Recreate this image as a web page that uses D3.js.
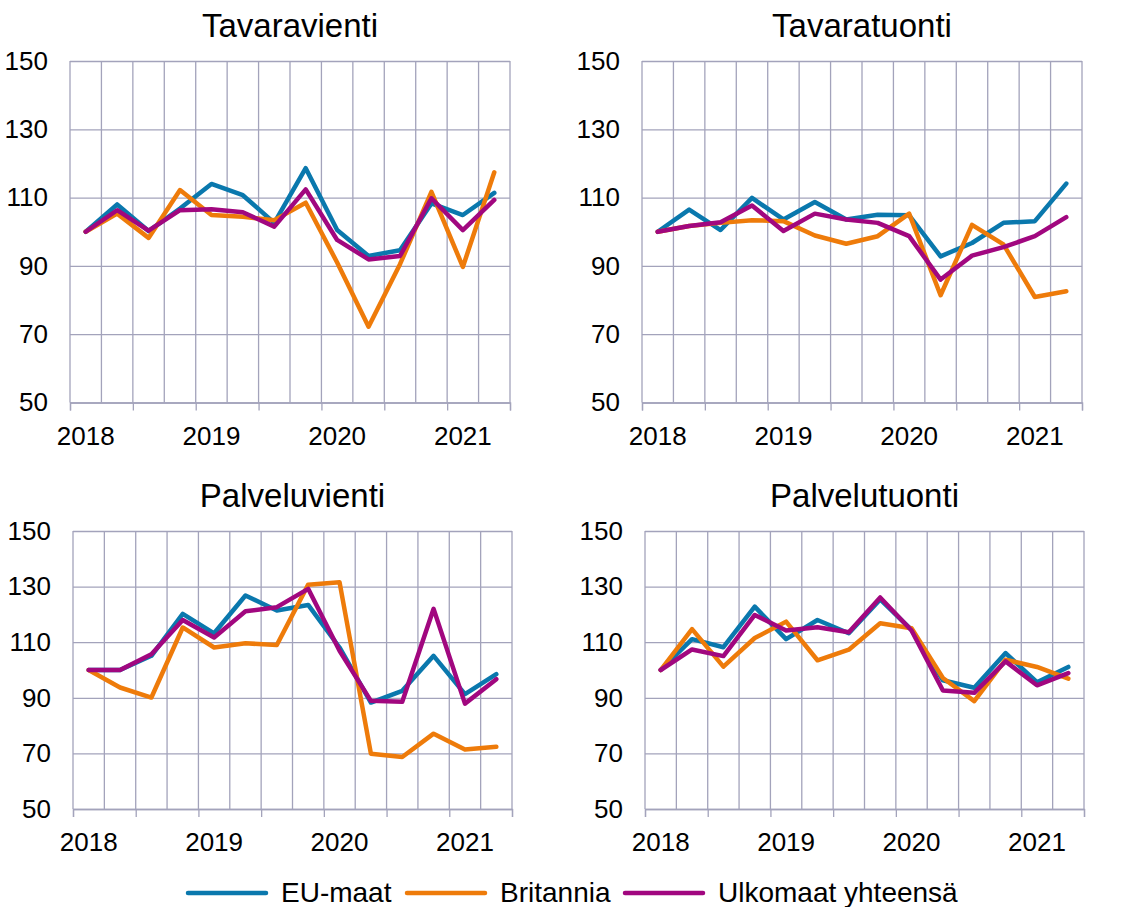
<!DOCTYPE html>
<html>
<head>
<meta charset="utf-8">
<script src="https://cdn.jsdelivr.net/npm/d3@7"></script>
<style>
  body { margin: 0; background: #fff; }
  svg { font-family: "Liberation Sans", Arial, sans-serif; }
</style>
</head>
<body>
<div id="chart"></div>
<script>
{
  const width = 1127;
  const height = 907;

  // quarters 2018Q1 .. 2021Q2
  const quarters = ["2018Q1","2018Q2","2018Q3","2018Q4","2019Q1","2019Q2","2019Q3","2019Q4",
                    "2020Q1","2020Q2","2020Q3","2020Q4","2021Q1","2021Q2"];
  const yearLabels = ["2018", "2019", "2020", "2021"];
  const yTicks = [50, 70, 90, 110, 130, 150];
  const seriesNames = ["EU-maat", "Britannia", "Ulkomaat yhteensä"];
  const colors = ["#0a78ad", "#ee7b0a", "#a1077f"];
  const panelTitles = ["Tavaravienti", "Tavaratuonti", "Palveluvienti", "Palvelutuonti"];

  // Tavaravienti
  const tvEU   = [100, 108.0, 100.2, 106.8, 114.0, 110.7, 102.6, 118.6, 100.5, 92.9, 94.6, 108.3, 104.9, 111.4];
  const tvUK   = [100, 105.3, 98.2, 112.2, 104.9, 104.4, 103.4, 108.5, 91.0, 72.2, 90.5, 111.7, 89.7, 117.4];
  const tvAll  = [100, 106.3, 100.3, 106.3, 106.6, 105.7, 101.5, 112.4, 97.6, 91.9, 92.9, 109.8, 100.5, 109.3];
  // Tavaratuonti
  const ttEU   = [100, 106.5, 100.5, 109.9, 103.6, 108.7, 103.6, 105.0, 104.8, 92.8, 96.7, 102.6, 103.1, 114.1];
  const ttUK   = [100, 101.7, 102.6, 103.4, 103.1, 98.9, 96.5, 98.7, 105.3, 81.4, 102.0, 96.3, 80.9, 82.6];
  const ttAll  = [100, 101.7, 102.8, 107.7, 100.2, 105.3, 103.6, 102.6, 98.7, 86.0, 93.0, 95.5, 98.7, 104.3];
  // Palveluvienti
  const pvEU   = [100, 100, 105.1, 120.2, 113.2, 126.8, 121.4, 123.4, 108.1, 88.3, 92.5, 105.1, 91.3, 98.5];
  const pvUK   = [100, 93.7, 90.1, 115.3, 108.1, 109.6, 109.0, 130.7, 131.6, 69.9, 68.7, 77.1, 71.4, 72.4];
  const pvAll  = [100, 100, 105.7, 118.0, 111.7, 121.1, 122.6, 129.2, 106.9, 88.9, 88.6, 122.0, 87.9, 96.7];
  // Palvelutuonti
  const ptEU   = [100, 111.1, 108.2, 122.8, 111.1, 118.0, 113.2, 125.4, 114.4, 96.3, 93.6, 106.1, 95.6, 101.1];
  const ptUK   = [100, 114.7, 101.2, 111.5, 117.4, 103.5, 107.3, 116.8, 115.0, 97.1, 88.8, 103.7, 101.1, 96.9];
  const ptAll  = [100, 107.4, 105.0, 119.8, 114.2, 115.4, 113.6, 126.1, 114.2, 92.6, 91.8, 103.1, 94.5, 98.9];

  const panelData = [
    [tvEU, tvUK, tvAll],
    [ttEU, ttUK, ttAll],
    [pvEU, pvUK, pvAll],
    [ptEU, ptUK, ptAll]
  ];

  // plot boxes for the four panels
  const boxes = [
    {x0: 70,  x1: 510,  y0: 61,  y1: 402.5},
    {x0: 642, x1: 1082, y0: 61,  y1: 402.5},
    {x0: 73,  x1: 512,  y0: 531, y1: 809},
    {x0: 645, x1: 1084, y0: 531, y1: 809}
  ];

  const gridColor = "#a3a3bb";

  const svg = d3.select("#chart").append("svg")
    .attr("width", width)
    .attr("height", height);

  boxes.forEach((b, p) => {
    const w = b.x1 - b.x0;
    const h = b.y1 - b.y0;
    const g = svg.append("g").attr("transform", `translate(${b.x0},${b.y0})`);

    const x = d3.scaleBand().domain(quarters).range([0, w]).padding(0);
    const xEdge = d3.scaleLinear().domain([0, quarters.length]).range([0, w]);
    const y = d3.scaleLinear().domain([50, 150]).range([h, 0]);

    // horizontal grid + y labels
    const yAxis = g.append("g")
      .call(d3.axisLeft(y).tickValues(yTicks).tickSize(-w).tickPadding(22));
    yAxis.select(".domain").remove();
    yAxis.selectAll("line").attr("stroke", gridColor).attr("stroke-width", 1.3);
    yAxis.selectAll("text")
      .attr("fill", "#000")
      .style("font-size", "26px")
      .style("font-family", "Liberation Sans, Arial, sans-serif");

    // vertical grid at category boundaries
    g.append("g").selectAll("line")
      .data(d3.range(0, quarters.length + 1))
      .join("line")
      .attr("x1", d => xEdge(d)).attr("x2", d => xEdge(d))
      .attr("y1", 0).attr("y2", h)
      .attr("stroke", gridColor).attr("stroke-width", 1.3);

    // tick marks below the axis every two quarters
    const xAxis = g.append("g")
      .attr("transform", `translate(0,${h})`)
      .call(d3.axisBottom(xEdge).tickValues(d3.range(0, quarters.length + 1, 2)).tickSize(8).tickFormat(""));
    xAxis.selectAll("line").attr("stroke", gridColor).attr("stroke-width", 1.3);
    xAxis.select(".domain").attr("stroke", gridColor).attr("stroke-width", 1.3);

    // year labels under Q1
    g.append("g").selectAll("text")
      .data(yearLabels)
      .join("text")
      .attr("x", d => x(d + "Q1") + x.bandwidth() / 2)
      .attr("y", h + 42)
      .attr("text-anchor", "middle")
      .style("font-size", "26px")
      .text(d => d);

    // title
    g.append("text")
      .attr("x", w / 2)
      .attr("y", -24)
      .attr("text-anchor", "middle")
      .style("font-size", "33px")
      .text(panelTitles[p]);

    const line = d3.line()
      .x((d, i) => x(quarters[i]) + x.bandwidth() / 2)
      .y(d => y(d));

    panelData[p].forEach((vals, s) => {
      g.append("path")
        .datum(vals)
        .attr("d", line)
        .attr("fill", "none")
        .attr("stroke", colors[s])
        .attr("stroke-width", 4.5)
        .attr("stroke-linejoin", "round")
        .attr("stroke-linecap", "round");
    });
  });

  // legend
  const legendItems = [
    {name: seriesNames[0], x: 188},
    {name: seriesNames[1], x: 407},
    {name: seriesNames[2], x: 625}
  ];
  const legend = svg.append("g").attr("transform", "translate(0,893)");
  legendItems.forEach((d, i) => {
    legend.append("line")
      .attr("x1", d.x).attr("x2", d.x + 78)
      .attr("y1", 0).attr("y2", 0)
      .attr("stroke", colors[i])
      .attr("stroke-width", 4.5)
      .attr("stroke-linecap", "round");
    legend.append("text")
      .attr("x", d.x + 93)
      .attr("y", 9)
      .style("font-size", "28px")
      .text(d.name);
  });
}
</script>
</body>
</html>
